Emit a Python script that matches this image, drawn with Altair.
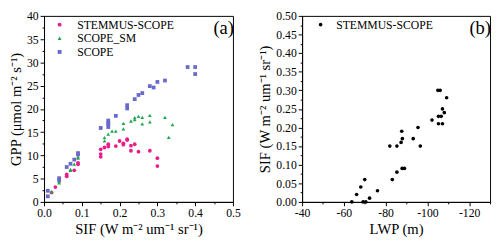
import altair as alt
import pandas as pd

# ---- panel (a): GPP vs SIF ----
series_names = ["STEMMUS-SCOPE", "SCOPE_SM", "SCOPE"]
series_colors = ["#EC1C8A", "#22A54F", "#6A6AC9"]
series_shapes = ["circle", "triangle-up", "square"]

ss_sif = [0.02, 0.03, 0.06, 0.06, 0.08, 0.09, 0.09, 0.15, 0.15, 0.15, 0.16, 0.17, 0.17,
          0.19, 0.20, 0.21, 0.21, 0.22, 0.22, 0.23, 0.23, 0.24, 0.25, 0.28, 0.30, 0.30]
ss_gpp = [2.0, 3.2, 5.5, 5.9, 6.8, 8.1, 8.4, 9.7, 10.3, 11.3, 11.7, 11.9, 12.4,
          12.0, 13.1, 12.3, 12.6, 13.3, 13.5, 12.1, 11.0, 12.4, 10.8, 11.0, 9.4, 7.7]

sm_sif = [0.02, 0.04, 0.04, 0.07, 0.07, 0.08, 0.09, 0.09, 0.16, 0.16, 0.17, 0.18, 0.19,
          0.21, 0.21, 0.23, 0.24, 0.24, 0.25, 0.26, 0.26, 0.28, 0.28, 0.32, 0.33, 0.34]
sm_gpp = [2.2, 4.1, 4.4, 6.8, 7.0, 8.1, 9.4, 9.7, 13.1, 13.8, 14.6, 15.2, 15.2,
          15.7, 16.9, 17.4, 17.7, 18.1, 18.4, 18.2, 16.8, 18.6, 17.2, 18.2, 13.9, 16.6]

sc_sif = [0.01, 0.01, 0.04, 0.04, 0.06, 0.07, 0.08, 0.09, 0.09, 0.15, 0.17, 0.17, 0.17,
          0.17, 0.19, 0.22, 0.22, 0.24, 0.25, 0.26, 0.28, 0.29, 0.30, 0.32, 0.38, 0.40, 0.40]
sc_gpp = [1.2, 2.4, 4.7, 5.1, 7.5, 8.2, 9.1, 10.2, 10.5, 15.9, 16.1, 16.7, 17.0,
          17.5, 18.5, 20.1, 20.8, 22.1, 23.0, 23.4, 24.9, 24.6, 25.8, 26.1, 29.0, 29.0, 27.5]

# ---- panel (b): SIF vs LWP ----
lwp_vals = [-63.8, -69.2, -70.5, -66.1, -72.3, -68.1, -76.1, -70.0, -83.2, -85.4,
            -87.9, -89.0, -82.0, -85.4, -96.6, -87.4, -88.0, -93.2, -87.7, -95.5,
            -105.3, -107.2, -102.2, -105.3, -106.6, -108.1, -107.2, -109.2, -105.0, -106.1]
lwp_sif = [0.00, 0.00, 0.00, 0.02, 0.01, 0.04, 0.03, 0.06, 0.06, 0.08,
           0.09, 0.09, 0.15, 0.15, 0.15, 0.16, 0.17, 0.17, 0.19, 0.20,
           0.21, 0.21, 0.22, 0.23, 0.23, 0.24, 0.25, 0.28, 0.30, 0.30]

left_df = pd.concat([
    pd.DataFrame({"sif": ss_sif, "gpp": ss_gpp, "series": series_names[0]}),
    pd.DataFrame({"sif": sm_sif, "gpp": sm_gpp, "series": series_names[1]}),
    pd.DataFrame({"sif": sc_sif, "gpp": sc_gpp, "series": series_names[2]}),
], ignore_index=True)

right_df = pd.DataFrame({"lwp": lwp_vals, "sif": lwp_sif, "model": "STEMMUS-SCOPE"})

FONT = "Liberation Serif"

x_left_vals = [round(i * 0.05, 2) for i in range(11)]
y_left_vals = [i * 2.5 for i in range(17)]
y_right_vals = [round(i * 0.025, 3) for i in range(21)]
x_right_vals = [-40 - 10 * i for i in range(10)]

leg = alt.Legend(title=None, orient="none", legendX=10, legendY=3, padding=0,
                 symbolSize=16, labelFont=FONT, labelFontSize=12, labelOffset=12,
                 rowPadding=2, symbolStrokeWidth=0)

left_pts = alt.Chart(left_df).mark_point(filled=True, size=15, opacity=1).encode(
    x=alt.X("sif:Q", scale=alt.Scale(domain=[0, 0.5], nice=False),
            axis=alt.Axis(title="SIF (W m⁻² um⁻¹ sr⁻¹)", values=x_left_vals,
                          labelExpr="abs(datum.value*10 - round(datum.value*10)) < 0.001 ? format(datum.value, '.1f') : ''",
                          tickSize={"condition": {"test": "abs(datum.value*10 - round(datum.value*10)) > 0.001", "value": 2}, "value": 4})),
    y=alt.Y("gpp:Q", scale=alt.Scale(domain=[0, 40], nice=False),
            axis=alt.Axis(title="GPP (μmol m⁻² s⁻¹)", values=y_left_vals,
                          labelExpr="datum.value % 5 == 0 ? '' + datum.value : ''",
                          tickSize={"condition": {"test": "datum.value % 5 != 0", "value": 2}, "value": 4})),
    color=alt.Color("series:N", scale=alt.Scale(domain=series_names, range=series_colors), legend=leg),
    shape=alt.Shape("series:N", scale=alt.Scale(domain=series_names, range=series_shapes), legend=leg),
)

label_a = alt.Chart(pd.DataFrame({"t": ["(a)"]})).mark_text(
    font=FONT, fontSize=19, align="right", baseline="middle", color="black"
).encode(text="t:N", x=alt.value(195), y=alt.value(13))

left = alt.layer(left_pts, label_a).properties(width=194, height=191)

leg_b = alt.Legend(title=None, orient="none", legendX=13, legendY=3, padding=0,
                   symbolSize=14, labelFont=FONT, labelFontSize=12, labelOffset=10,
                   symbolStrokeWidth=0)

right_pts = alt.Chart(right_df).mark_circle(size=14, opacity=1).encode(
    x=alt.X("lwp:Q", scale=alt.Scale(domain=[-130, -40], nice=False, reverse=True),
            axis=alt.Axis(title="LWP (m)", values=x_right_vals,
                          labelExpr="datum.value % 20 == 0 ? '' + datum.value : ''",
                          tickSize={"condition": {"test": "datum.value % 20 != 0", "value": 2}, "value": 4})),
    y=alt.Y("sif:Q", scale=alt.Scale(domain=[0, 0.5], nice=False),
            axis=alt.Axis(title="SIF (W m⁻² um⁻¹ sr⁻¹)", values=y_right_vals,
                          labelExpr="abs(datum.value*20 - round(datum.value*20)) < 0.001 ? format(datum.value, '.2f') : ''",
                          tickSize={"condition": {"test": "abs(datum.value*20 - round(datum.value*20)) > 0.001", "value": 2}, "value": 4})),
    color=alt.Color("model:N", scale=alt.Scale(domain=["STEMMUS-SCOPE"], range=["black"]), legend=leg_b),
)

label_b = alt.Chart(pd.DataFrame({"t": ["(b)"]})).mark_text(
    font=FONT, fontSize=19, align="right", baseline="middle", color="black"
).encode(text="t:N", x=alt.value(194), y=alt.value(13))

right = alt.layer(right_pts, label_b).properties(width=193, height=191)

chart = alt.hconcat(left, right, spacing=17).resolve_scale(
    color="independent", shape="independent"
).resolve_legend(color="independent", shape="independent").properties(
    padding={"left": 0, "top": -2, "right": 0, "bottom": 0}
).configure_view(
    stroke="black", strokeWidth=1
).configure_axis(
    grid=False, domainColor="black", tickColor="black", labelColor="black",
    titleColor="black", labelFont=FONT, titleFont=FONT, labelFontSize=12,
    titleFontSize=15, titleFontWeight="normal", labelPadding=2, titlePadding=3,
    domainWidth=1, tickWidth=1, labelFlush=False
)

chart.save("out.html", embed_options={"renderer": "svg", "actions": False})
